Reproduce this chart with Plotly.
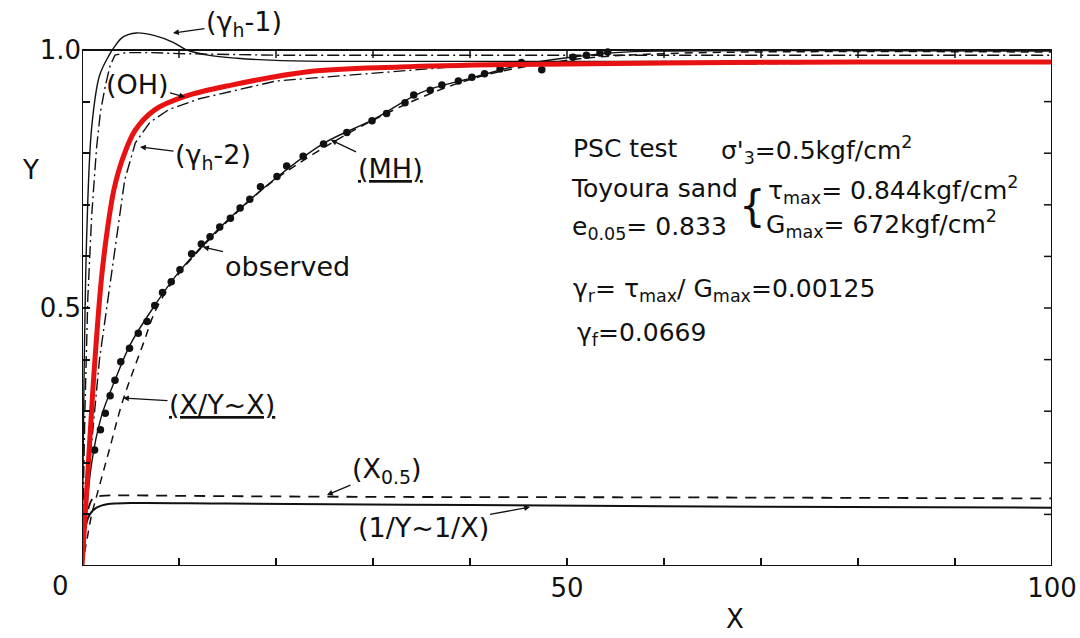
import plotly.graph_objects as go

# ---------------- data ----------------
red_x = [0, 0.6, 1.15, 2.0, 2.6, 3.3, 4.2, 5.5, 7.5, 10.6, 15.4, 23.3, 32.8, 45, 60, 80, 100]
red_y = [0, 0.18, 0.35, 0.556, 0.65, 0.73, 0.79, 0.845, 0.884, 0.91, 0.932, 0.958, 0.967, 0.972, 0.975, 0.977, 0.977]

obs_x = [1.3, 1.9, 2.4, 2.9, 3.4, 4.0, 4.9, 5.8, 6.7, 7.5, 8.3, 9.2, 10.1, 11.3, 12.3, 13.2, 14.2,
         15.3, 16.3, 17.3, 18.4, 20.1, 21.1, 22.8, 24.9, 27.3, 29.9, 31.4, 33.3, 34.2, 35.9, 37.1,
         38.8, 40.2, 41.5, 43.1, 45.3, 47.4, 50.6, 52.0, 53.4, 54.2]
obs_y = [0.225, 0.264, 0.296, 0.33, 0.36, 0.396, 0.422, 0.451, 0.474, 0.505, 0.53, 0.551, 0.574,
         0.605, 0.624, 0.638, 0.657, 0.674, 0.694, 0.711, 0.735, 0.755, 0.775, 0.794, 0.818, 0.84,
         0.863, 0.877, 0.898, 0.913, 0.922, 0.932, 0.94, 0.947, 0.954, 0.963, 0.976, 0.962, 0.986,
         0.99, 0.994, 0.996]

mh_x = [0, 1, 2, 3.4, 5, 7.5, 10, 15, 20, 25, 30, 35, 40, 45, 50, 55, 60, 100]
mh_y = [0, 0.2, 0.29, 0.36, 0.43, 0.505, 0.57, 0.67, 0.752, 0.82, 0.865, 0.918, 0.945, 0.97, 0.985, 0.995, 0.998, 0.998]

xyx_x = [0, 0.5, 1.0, 1.5, 2.9, 4.2, 6.3, 7.7, 10, 15, 20, 30, 40, 50, 60, 100]
xyx_y = [0, 0.05, 0.1, 0.135, 0.231, 0.32, 0.43, 0.5, 0.567, 0.668, 0.75, 0.864, 0.943, 0.98, 0.993, 0.996]

oh_x = [0, 0.3, 0.6, 1.0, 1.5, 1.9, 2.4, 2.9, 3.4, 4.5, 7, 10, 20, 40, 100]
oh_y = [0, 0.3, 0.52, 0.68, 0.81, 0.88, 0.93, 0.97, 0.99, 0.995, 0.995, 0.993, 0.99, 0.99, 0.99]

gh1_x = [0, 0.2, 0.5, 1.0, 1.8, 2.8, 3.3, 4.2, 5.6, 7.5, 9.4, 10.8, 13, 16, 20, 26, 35, 50, 100]
gh1_y = [0, 0.35, 0.65, 0.85, 0.95, 0.99, 1.005, 1.025, 1.033, 1.028, 1.015, 1.0, 0.99, 0.984, 0.98, 0.978, 0.978, 0.978, 0.978]

gh2_x = [0, 0.8, 1.8, 3.0, 4.4, 5.5, 7, 9, 12, 20, 40, 100]
gh2_y = [0, 0.2, 0.4, 0.556, 0.748, 0.82, 0.86, 0.885, 0.905, 0.94, 0.97, 0.977]

x05_x = [0, 0.4, 0.8, 1.2, 2, 4, 10, 30, 60, 100]
x05_y = [0, 0.08, 0.12, 0.132, 0.136, 0.137, 0.136, 0.134, 0.133, 0.131]

inv_x = [0, 0.3, 0.8, 1.5, 2.7, 5, 15, 40, 70, 100]
inv_y = [0, 0.07, 0.1, 0.113, 0.12, 0.122, 0.121, 0.118, 0.115, 0.113]

x_ticks = [0, 10, 20, 30, 40, 50, 60, 70, 80, 90, 100]
x_label_vals = [50, 100]
x_label_text = ["50", "100"]
y_ticks = [0, 0.1, 0.2, 0.3, 0.4, 0.5, 0.6, 0.7, 0.8, 0.9, 1.0]
y_label_vals = [0.5, 1.0]
y_label_text = ["0.5", "1.0"]

# ---------------- figure ----------------
FONT = "DejaVu Sans, Liberation Sans, Arial, sans-serif"
W, H = 1080, 638
ML, MR, MT, MB = 82, 28, 1, 72
XMAX, YMAX = 100, 1.095
PW, PH = W - ML - MR, H - MT - MB


def px_(px):
    return (px - ML) / PW


def py_(py):
    return (H - MB - py) / PH


fig = go.Figure()
blk = "#111111"
DASHDOT = "12px,4px,2px,4px"
fig.add_trace(go.Scatter(x=oh_x, y=oh_y, mode="lines", line=dict(color=blk, width=1.4, dash=DASHDOT), hoverinfo="skip"))
fig.add_trace(go.Scatter(x=gh2_x, y=gh2_y, mode="lines", line=dict(color=blk, width=1.4, dash=DASHDOT), hoverinfo="skip"))
fig.add_trace(go.Scatter(x=gh1_x, y=gh1_y, mode="lines", line=dict(color=blk, width=1.4, shape="spline"), hoverinfo="skip"))
fig.add_trace(go.Scatter(x=xyx_x, y=xyx_y, mode="lines", line=dict(color=blk, width=1.5, dash="8px,6px", shape="spline"), hoverinfo="skip"))
fig.add_trace(go.Scatter(x=x05_x, y=x05_y, mode="lines", line=dict(color=blk, width=1.8, dash="11px,8px", shape="spline"), hoverinfo="skip"))
fig.add_trace(go.Scatter(x=inv_x, y=inv_y, mode="lines", line=dict(color=blk, width=2, shape="spline"), hoverinfo="skip"))
fig.add_trace(go.Scatter(x=mh_x, y=mh_y, mode="lines", line=dict(color=blk, width=1.4, shape="spline"), hoverinfo="skip"))
fig.add_trace(go.Scatter(x=obs_x, y=obs_y, mode="markers", marker=dict(color=blk, size=7.5, symbol="circle"), hoverinfo="skip"))
fig.add_trace(go.Scatter(x=red_x, y=red_y, mode="lines", line=dict(color="rgb(232,18,18)", width=5, shape="spline"), hoverinfo="skip"))

# frame
shapes = [
    dict(type="line", x0=0, x1=XMAX, y0=0, y1=0),
    dict(type="line", x0=0, x1=0, y0=0, y1=1.0),
    dict(type="line", x0=0, x1=XMAX, y0=1.0, y1=1.0),
    dict(type="line", x0=XMAX, x1=XMAX, y0=0, y1=1.0),
]
for s in shapes:
    s.update(xref="x", yref="y", line=dict(color=blk, width=2), layer="above")
# top ticks (pointing down) and right ticks (pointing left)
for t in x_ticks[1:-1]:
    shapes.append(dict(type="line", xref="x", yref="y", x0=t, x1=t, ysizemode="pixel", yanchor=1.0,
                       y0=0, y1=-8, line=dict(color=blk, width=1.5)))
for t in y_ticks[1:-1]:
    shapes.append(dict(type="line", xref="x", yref="y", y0=t, y1=t, xsizemode="pixel", xanchor=XMAX,
                       x0=0, x1=-8, line=dict(color=blk, width=1.5)))

ann = []
FS = 25


def label(text, px, py, size=FS, xanchor="center", pad=1):
    ann.append(dict(text=text, x=px_(px), y=py_(py), xref="paper", yref="paper", showarrow=False,
                    xanchor=xanchor, yanchor="middle", borderpad=pad,
                    font=dict(family=FONT, size=size, color=blk)))


def arrow_label(text, tipx, tipy, cx, cy, size=27):
    ann.append(dict(text=text, x=px_(tipx), y=py_(tipy), xref="paper", yref="paper", showarrow=True,
                    ax=cx - tipx, ay=cy - tipy, arrowhead=2, arrowsize=0.9, arrowwidth=1.3,
                    arrowcolor=blk, standoff=0, startstandoff=0,
                    font=dict(family=FONT, size=size, color=blk)))


arrow_label("(γ<sub>h</sub>-1)", 173, 33, 244, 23)
arrow_label("(OH)", 185, 97, 137, 84)
arrow_label("(γ<sub>h</sub>-2)", 140, 147, 213, 156)
arrow_label("<u>(MH)</u>", 331, 140, 390, 168)
arrow_label("observed", 203, 247, 287, 266)
arrow_label("<u>(X/Y~X)</u>", 123, 398, 222, 404)
arrow_label("(X<sub>0.5</sub>)", 327, 495, 387, 470)
arrow_label("(1/Y~1/X)", 530, 507, 423, 527)

label("PSC test", 571, 148, xanchor="left")
label("σ'<sub>3</sub>=0.5kgf/cm<sup>2</sup>", 719, 150, xanchor="left")
label("Toyoura sand", 570, 188, xanchor="left", pad=0)
label("{", 752, 206, size=42, pad=0)
label("τ<sub>max</sub>= 0.844kgf/cm<sup>2</sup>", 767, 190, xanchor="left", pad=0)
label("G<sub>max</sub>= 672kgf/cm<sup>2</sup>", 765, 224, xanchor="left", pad=0)
label("e<sub>0.05</sub>= 0.833", 571, 228, xanchor="left", pad=0)
label("γ<sub>r</sub>= τ<sub>max</sub>/ G<sub>max</sub>=0.00125", 571, 290, xanchor="left")
label("γ<sub>f</sub>=0.0669", 575, 334, xanchor="left")

# axis titles and origin label
label("Y", 30, 170, size=26)
label("X", 735, 619, size=26, pad=0)
label("0", 60, 586, size=26)

fig.update_layout(
    width=W, height=H,
    margin=dict(l=ML, r=MR, t=MT, b=MB),
    paper_bgcolor="white", plot_bgcolor="white",
    showlegend=False,
    shapes=shapes,
    annotations=ann,
    font=dict(family=FONT, size=26, color=blk),
    xaxis=dict(range=[0, XMAX], showgrid=False, zeroline=False, showline=False,
               ticks="inside", ticklen=8, tickwidth=1.5, tickcolor=blk,
               tickvals=x_label_vals, ticktext=x_label_text,
               tickfont=dict(family=FONT, size=26, color=blk), ticklabelstandoff=4,
               minor=dict(tickvals=x_ticks, ticks="inside", ticklen=8, tickwidth=1.5,
                          tickcolor=blk, showgrid=False)),
    yaxis=dict(range=[0, YMAX], showgrid=False, zeroline=False, showline=False,
               ticks="inside", ticklen=8, tickwidth=1.5, tickcolor=blk,
               tickvals=y_label_vals, ticktext=y_label_text,
               tickfont=dict(family=FONT, size=26, color=blk), ticklabelstandoff=0,
               minor=dict(tickvals=y_ticks, ticks="inside", ticklen=8, tickwidth=1.5,
                          tickcolor=blk, showgrid=False)),
)

fig.write_html("out.html")
